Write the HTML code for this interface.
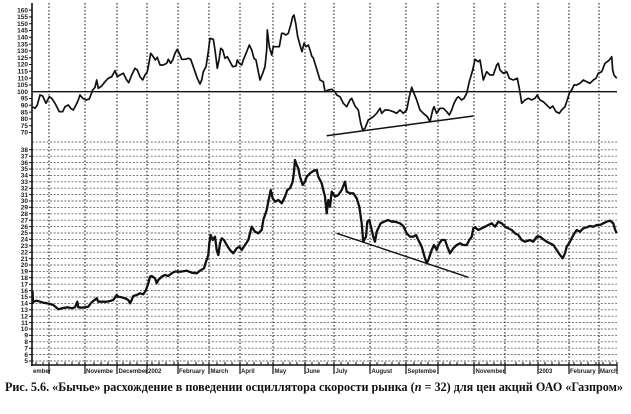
<!DOCTYPE html>
<html><head><meta charset="utf-8">
<style>
html,body{margin:0;padding:0;background:#fff;}
svg{display:block;}
.yl{font-family:"Liberation Sans",sans-serif;font-size:6.5px;font-weight:bold;fill:#222;text-anchor:end;}
.xl{font-family:"Liberation Sans",sans-serif;font-size:6px;font-weight:bold;fill:#222;}
.cap{font-family:"Liberation Serif","Noto Serif CJK SC",serif;font-size:13px;font-weight:bold;fill:#111;}
</style></head>
<body>
<svg width="631" height="414" viewBox="0 0 631 414" xmlns="http://www.w3.org/2000/svg">
<rect width="631" height="414" fill="#fff"/>

<!-- lower panel horizontal dashed grid -->
<path d="M32 142H617M32 149.8H617M32 156.2H617M32 162.6H617M32 169H617M32 175.4H617M32 181.8H617M32 188.2H617M32 194.6H617M32 201H617M32 207.4H617M32 213.8H617M32 220.2H617M32 226.6H617M32 233H617M32 239.4H617M32 245.8H617M32 252.2H617M32 258.6H617M32 265H617M32 271.4H617M32 277.8H617M32 284.2H617M32 290.6H617M32 297H617M32 303.4H617M32 309.8H617M32 316.2H617M32 322.6H617M32 329H617M32 335.4H617M32 341.8H617M32 348.2H617M32 354.6H617M32 361H617" stroke="#6a6a6a" stroke-width="0.9" stroke-dasharray="2,1.6" fill="none"/>

<!-- vertical dotted month lines -->
<path d="M49 3V365M85 3V365M117 3V365M147 3V365M178 3V365M209 3V365M240 3V365M273 3V365M305 3V365M334 3V365M370 3V365M406 3V365M438 3V365M474 3V365M505 3V365M538 3V365M569 3V365M599 3V365" stroke="#222" stroke-width="1.1" stroke-dasharray="1.5,2" fill="none"/>

<!-- 100 line -->
<line x1="32" y1="91.7" x2="617" y2="91.7" stroke="#111" stroke-width="1.4"/>

<!-- axes -->
<line x1="32" y1="3" x2="32" y2="366" stroke="#111" stroke-width="1.6"/>
<line x1="31" y1="365" x2="617" y2="365" stroke="#111" stroke-width="1.6"/>

<!-- y ticks upper -->
<path d="M29 10.1H32M29 16.9H32M29 23.7H32M29 30.5H32M29 37.3H32M29 44.1H32M29 50.9H32M29 57.7H32M29 64.5H32M29 71.3H32M29 78.1H32M29 84.9H32M29 98.5H32M29 105.3H32M29 112.1H32M29 118.9H32M29 125.7H32M29 132.5H32" stroke="#111" stroke-width="1"/>
<!-- y ticks lower -->
<path d="M29 149.8H32M29 156.2H32M29 162.6H32M29 169H32M29 175.4H32M29 181.8H32M29 188.2H32M29 194.6H32M29 201H32M29 207.4H32M29 213.8H32M29 220.2H32M29 226.6H32M29 233H32M29 239.4H32M29 245.8H32M29 252.2H32M29 258.6H32M29 265H32M29 271.4H32M29 277.8H32M29 284.2H32M29 290.6H32M29 297H32M29 303.4H32M29 309.8H32M29 316.2H32M29 322.6H32M29 329H32M29 335.4H32M29 341.8H32M29 348.2H32M29 354.6H32M29 361H32" stroke="#111" stroke-width="1"/>

<!-- upper labels -->
<g class="yl">
<text x="28" y="12.3">160</text><text x="28" y="19.1">155</text><text x="28" y="25.9">150</text><text x="28" y="32.7">145</text><text x="28" y="39.5">140</text><text x="28" y="46.3">135</text><text x="28" y="53.1">130</text><text x="28" y="59.9">125</text><text x="28" y="66.7">120</text><text x="28" y="73.5">115</text><text x="28" y="80.3">110</text><text x="28" y="87.1">105</text><text x="28" y="93.9">100</text><text x="28" y="100.7">95</text><text x="28" y="107.5">90</text><text x="28" y="114.3">85</text><text x="28" y="121.1">80</text><text x="28" y="127.9">75</text><text x="28" y="134.7">70</text>
</g>
<!-- lower labels -->
<g class="yl">
<text x="28" y="152">38</text><text x="28" y="158.4">37</text><text x="28" y="164.8">36</text><text x="28" y="171.2">35</text><text x="28" y="177.6">34</text><text x="28" y="184">33</text><text x="28" y="190.4">32</text><text x="28" y="196.8">31</text><text x="28" y="203.2">30</text><text x="28" y="209.6">29</text><text x="28" y="216">28</text><text x="28" y="222.4">27</text><text x="28" y="228.8">26</text><text x="28" y="235.2">25</text><text x="28" y="241.6">24</text><text x="28" y="248">23</text><text x="28" y="254.4">22</text><text x="28" y="260.8">21</text><text x="28" y="267.2">20</text><text x="28" y="273.6">19</text><text x="28" y="280">18</text><text x="28" y="286.4">17</text><text x="28" y="292.8">16</text><text x="28" y="299.2">15</text><text x="28" y="305.6">14</text><text x="28" y="312">13</text><text x="28" y="318.4">12</text><text x="28" y="324.8">11</text><text x="28" y="331.2">10</text><text x="28" y="337.6">9</text><text x="28" y="344">8</text><text x="28" y="350.4">7</text><text x="28" y="356.8">6</text><text x="28" y="363.2">5</text>
</g>

<!-- x axis ticks -->
<path d="M36 365v-3M43 365v-3M57 365v-3M65 365v-3M72 365v-3M79 365v-3M94 365v-3M101 365v-3M108 365v-3M123 365v-3M130 365v-3M137 365v-3M152 365v-3M159 365v-3M166 365v-3M174 365v-3M188 365v-3M196 365v-3M203 365v-3M217 365v-3M225 365v-3M232 365v-3M247 365v-3M254 365v-3M261 365v-3M268 365v-3M283 365v-3M290 365v-3M297 365v-3M312 365v-3M319 365v-3M327 365v-3M341 365v-3M348 365v-3M356 365v-3M363 365v-3M377 365v-3M385 365v-3M392 365v-3M399 365v-3M414 365v-3M421 365v-3M428 365v-3M443 365v-3M450 365v-3M457 365v-3M465 365v-3M479 365v-3M487 365v-3M494 365v-3M501 365v-3M516 365v-3M523 365v-3M530 365v-3M545 365v-3M552 365v-3M559 365v-3M574 365v-3M581 365v-3M588 365v-3M596 365v-3M603 365v-3M610 365v-3" stroke="#111" stroke-width="1"/>
<path d="M49 362V374M85 362V374M117 362V374M147 362V374M178 362V374M209 362V374M240 362V374M273 362V374M305 362V374M334 362V374M370 362V374M406 362V374M438 362V374M474 362V374M505 362V374M538 362V374M569 362V374M599 362V374M617 362V374" stroke="#111" stroke-width="1.2"/>

<!-- x labels -->
<g class="xl">
<text x="33" y="373">ember</text>
<text x="86" y="373">Novembe</text>
<text x="118.5" y="373">December</text>
<text x="148" y="373">2002</text>
<text x="179" y="373">February</text>
<text x="210.5" y="373">March</text>
<text x="241" y="373">April</text>
<text x="274.5" y="373">May</text>
<text x="306" y="373">June</text>
<text x="335.5" y="373">July</text>
<text x="371.5" y="373">August</text>
<text x="407.5" y="373">Septembe</text>
<text x="475.5" y="373">November</text>
<text x="539" y="373">2003</text>
<text x="570" y="373">February</text>
<text x="600" y="373">March</text>
</g>

<!-- upper oscillator series -->
<polyline fill="none" stroke="#111" stroke-width="1.7" stroke-linejoin="round" points="32,106.7 35,108.3 37.3,105 40,95 42.7,96 46,103.3 49.3,96.7 51.7,98.3 55,103.3 59.3,111.7 62.7,111.7 65,106.7 68.3,105 70.7,108.3 73.3,110 76,105 78.3,100 80,95 82.7,98.3 86,100 89.3,99 92.7,90 95,87.3 96.7,80 98.3,88.3 101.7,86 105,81.7 108.3,78.3 111.7,76.7 115,70.7 117.3,76.7 120,75 123.3,73.3 126.7,80 128.7,82.7 131.7,75 135,68.3 137.3,70 140,76.7 142.7,80 145,75 147.3,71.7 148.3,66.7 150.7,53.3 153.3,56.7 155.3,60 157.3,57.3 160,65 163.3,65 166.7,63.3 168.3,59.3 170.7,63.3 172.7,60 175,53.3 177.3,49.3 179.3,53.3 181.7,59.3 185,59.3 188.3,58.3 190.7,59.3 193.3,66.7 197.3,78.3 200,84 201.7,80 203.3,71.7 206,66.7 208.3,51.7 210,38.3 213.3,39.3 215,50 217.3,68.3 219.3,58.3 220.7,48.3 222.7,50 225,58.3 227.3,56.7 230,61.7 232.7,66.7 236,66 237.3,60 239.3,63.3 241.7,65 243.3,60 246.7,51.7 249.3,45 251.7,50 254,58.3 256,60 258.3,71.7 260,80 262.7,73.3 265,66.7 266.7,50 267.3,30 269.3,46.7 271.7,55 273.3,46.7 276,46.7 279.3,46.7 281.7,33.3 283.3,33.3 286,35 288.3,33.3 290.7,25 292.7,16.7 294,15 295.7,23.3 297.7,36.7 300,45 302,51.7 304,43.3 306,46.7 308.3,45 310,50 311.7,56 313.3,58 316,66.7 320,80 323.3,81.7 325,91.7 328.3,90 331.7,89.3 335,91.7 336.7,95 340,96.7 343.3,103.3 346.7,106.7 350,100 351.7,98.3 355,106 358.3,110 360.7,123.3 362.7,130 365,128.3 368.3,120 373.3,116.7 376.7,113.3 380,108.3 381.7,113.3 385,110 388.3,110 393.3,111.7 396.7,113.3 400,110 403.3,113.3 406.7,110 409.3,96.7 411.7,87.3 414,93.3 416.7,100 420,110 423.3,113.3 427.3,116.7 430,121.7 432.7,110 434,106.7 436.7,113.3 440,108.3 443.3,108.3 446.7,111.7 449.3,115 451.7,110 454,103.3 456.7,98.3 458.3,96.7 461.7,100 464,98.3 466.7,93.3 469.3,81.7 472.7,70 475,59.3 478.3,61.7 480,60 481.7,70 483.3,80 486.7,71.7 490,75 493.3,75 495,70 496.7,65 498.3,63.3 500,70 503.3,73.3 506.7,71.7 509.3,78.3 513.3,80 517.3,78.3 519.3,88.3 521.7,103.3 525,100 528.3,98.3 531.7,100 535,98.3 537.3,95 540,100 543.3,101.7 546.7,105 550,108.3 552.7,106 556,111.7 559.3,113.3 561.7,110 565,106.7 567.3,100 569.3,93.3 571.7,90 574,85 576.7,85 580,83.3 583.3,80 586.7,81.7 590,83.3 593.3,80 596,78.3 598.3,73.3 601.7,71.7 605,63.3 607.3,61.7 609.3,60 611.7,56.7 612.7,70 614,75 616.7,78.3"/>

<!-- upper trend line -->
<line x1="326.7" y1="135.7" x2="473.3" y2="116" stroke="#111" stroke-width="1.5"/>

<!-- lower price series -->
<polyline fill="none" stroke="#111" stroke-width="2.3" stroke-linejoin="round" points="32.5,291 33,303 33.3,301.7 36.7,300.7 40,301.7 43.3,302.7 46.7,303.3 50,304 53.3,305 58.3,309.3 61.7,308.3 65,307.7 68.3,307.3 71.7,308.3 75,307.3 77.3,301.7 78.3,307.3 81.7,307.7 85,307.3 88.3,306.7 90.7,303.3 93.3,301 96.7,298.3 98.3,301.7 101.7,301.7 106.7,301.7 110,301 113.3,300 116.7,295 118.3,296.7 121.7,297.3 125,298.3 128.3,300 130,303.3 131.7,300 133.3,296 136.7,295 140,293.3 143.3,294.3 146,290 148.3,283.3 150,276.7 151.7,276 155,278.3 156.7,283.3 158.3,280 161.7,276.7 165,275 168.3,276 171.7,273.3 175,271.5 180,271.7 186.7,270.7 191.7,272.7 196.7,273.3 200,270.7 204,268.3 206,261.7 208.3,255 209.3,243.3 210.7,235 212.7,240 215,236.7 216.7,250 218.3,255 220,243.3 221.7,238.3 224,240 226.7,245 230,250 233.3,253.3 236.7,248.3 239.3,246.7 241.7,250 245,245 248.3,240 250,233.3 251.7,226.7 255,231.7 258.3,233.3 261.7,230 263.3,220 266.7,210 268.3,201.7 270.7,190 272.7,198.3 275,201.7 278.3,200 281.7,203.3 285,196.7 287.3,190 290,188.3 292.7,181.7 294,171.7 295,160 296.7,165 298.3,168.3 300,176.7 302.7,185 305,181.7 306.7,176.7 310,173.3 313.3,171 316.7,170 318.3,176.7 321.7,183.3 323.3,190 325,196.7 326.7,213.3 328.3,200 330,206.7 331.7,191.7 335,196.7 338.3,195 341.7,190 345,181.7 346.7,191.7 350,193.3 353.3,193.3 356.7,198.3 359.3,206.7 361.7,223.3 363.3,241.7 366,236.7 367.3,221.7 369.3,220 371.7,230 373.3,236.7 375,241.7 376.7,231.7 378.3,228.3 380.7,223.3 384,221.7 388.3,220 391.7,221.7 395,221.7 400,223.3 403.3,226 406.7,233.3 410,236.7 413.3,236.7 416,235 418.3,240 421.7,246.7 425,258.3 426.7,263.3 428.3,260 430,255 431.7,250 434,245 436.7,250 438.3,245 441.7,240 445,240 447.3,246.7 450,253.3 453.3,248.3 456.7,245 460,243.3 463.3,245 466.7,245 469.3,240 471.7,236.7 473.3,228.3 475,227.3 478.3,230 481.7,228.3 485,226.7 488.3,225 491.7,223.3 495,226.7 498.3,221.7 501.7,223.3 505,226.7 508.3,228.3 511.7,230 515,233.3 518.3,235 521.7,240 525,241.7 530,240 533.3,241.7 536.7,236.7 540,236.7 543.3,239.3 546.7,241.7 550,243.3 553.3,245 556.7,250 560,255 562.7,258.3 565,253.3 566.7,246.7 570,241.7 573.3,235 576.7,230 580,231.7 583.3,228.3 586.7,227.3 590,226 593.3,226.7 596.7,225 600,225 603.3,223.3 606.7,221.7 610,220.7 613.3,223.3 615,229.3 616.7,233.3"/>

<!-- lower trend line -->
<line x1="336.7" y1="233.3" x2="468.3" y2="277.3" stroke="#111" stroke-width="1.4"/>

<!-- caption -->
<text class="cap" x="5" y="391" textLength="618" lengthAdjust="spacingAndGlyphs">Рис. 5.6. «Бычье» расхождение в поведении осциллятора скорости рынка (<tspan font-style="italic">n</tspan> = 32) для цен акций ОАО «Газпром»</text>
</svg>
</body></html>
